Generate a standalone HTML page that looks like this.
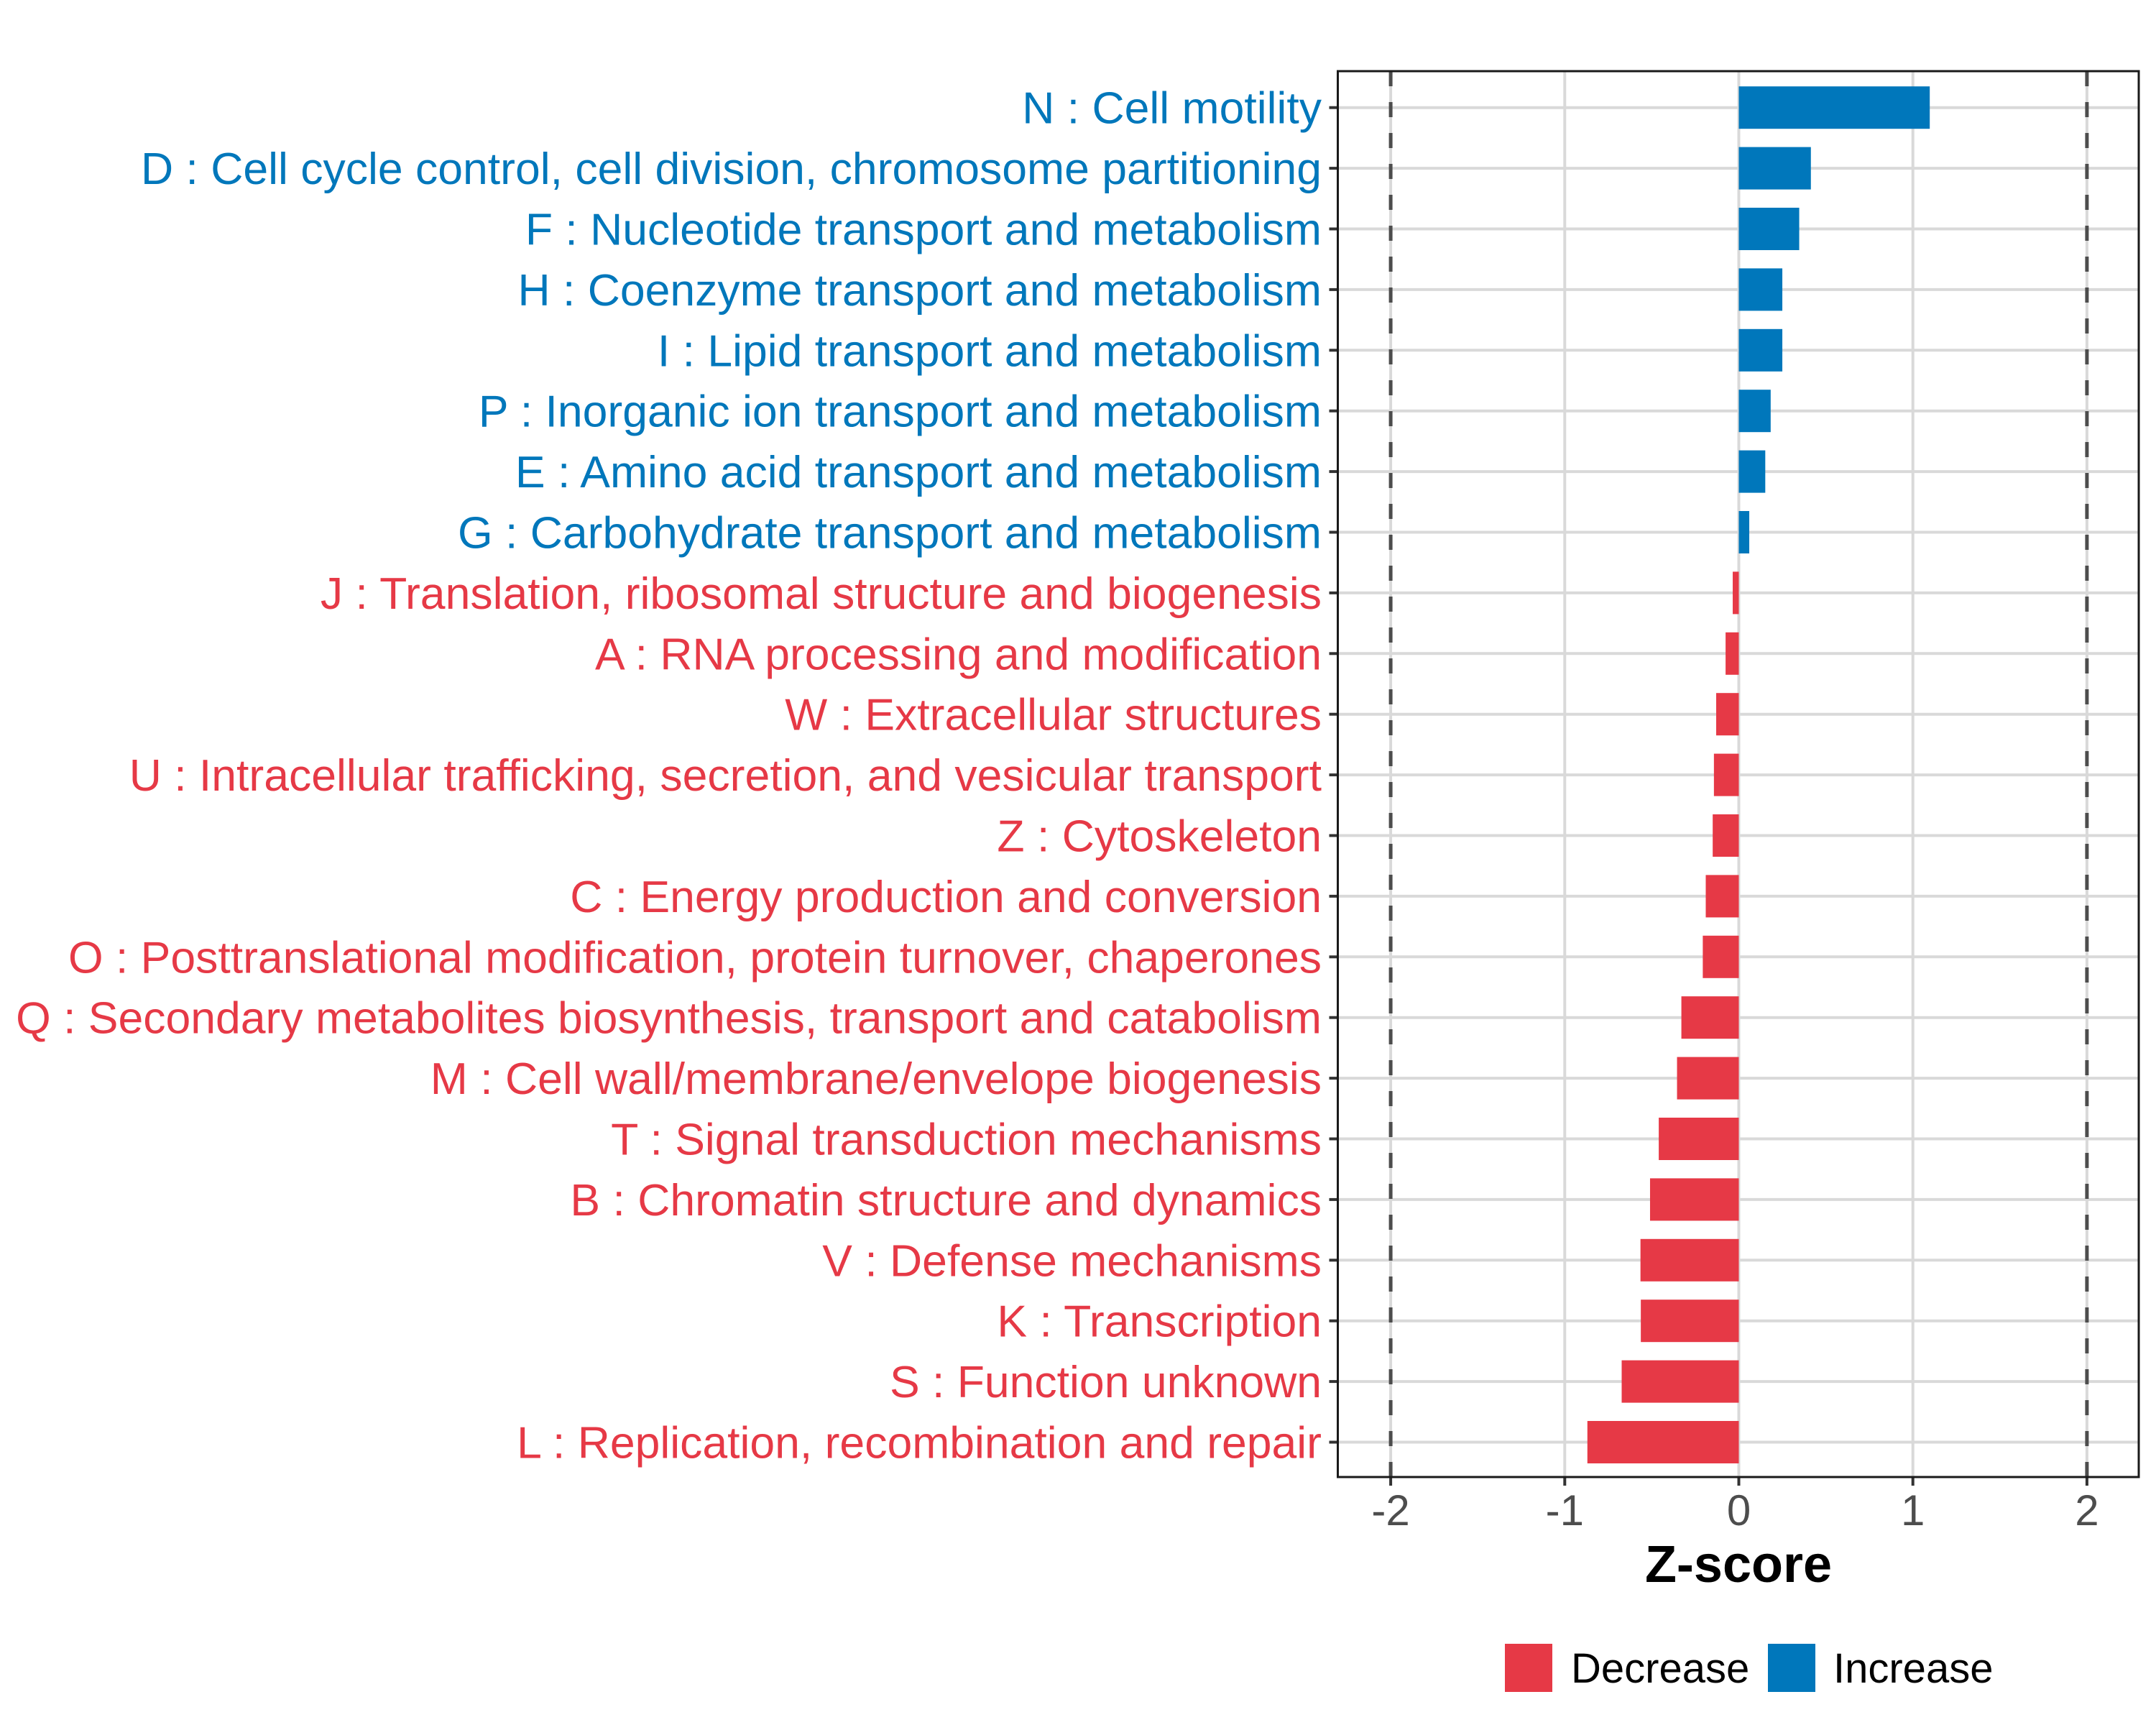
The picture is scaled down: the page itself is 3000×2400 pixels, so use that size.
<!DOCTYPE html>
<html><head><meta charset="utf-8"><style>
html,body{margin:0;padding:0;background:#fff;}
svg{display:block;font-family:"Liberation Sans",Arial,sans-serif;}
</style></head><body>
<svg id="chart" width="3000" height="2400" viewBox="0 0 3000 2400">
<rect x="0" y="0" width="3000" height="2400" fill="#fff"/>
<g id="grid"></g>
<g id="bars"></g>
<g id="labels"></g>
<g id="xaxis"></g>
<rect x="1861.5" y="99" width="1114.5" height="1956" fill="none" stroke="#1a1a1a" stroke-width="3"/>
<text x="2419" y="2201" text-anchor="middle" font-size="72" font-weight="bold" fill="#000">Z-score</text>
<g>
<rect x="2094" y="2287" width="66" height="67" fill="#E63946"/>
<text x="2186" y="2341" font-size="58" fill="#000">Decrease</text>
<rect x="2460" y="2287" width="66" height="67" fill="#0077BB"/>
<text x="2551" y="2341" font-size="58" fill="#000">Increase</text>
</g>
</svg>
<script>
const categories = [
"N : Cell motility",
"D : Cell cycle control, cell division, chromosome partitioning",
"F : Nucleotide transport and metabolism",
"H : Coenzyme transport and metabolism",
"I : Lipid transport and metabolism",
"P : Inorganic ion transport and metabolism",
"E : Amino acid transport and metabolism",
"G : Carbohydrate transport and metabolism",
"J : Translation, ribosomal structure and biogenesis",
"A : RNA processing and modification",
"W : Extracellular structures",
"U : Intracellular trafficking, secretion, and vesicular transport",
"Z : Cytoskeleton",
"C : Energy production and conversion",
"O : Posttranslational modification, protein turnover, chaperones",
"Q : Secondary metabolites biosynthesis, transport and catabolism",
"M : Cell wall/membrane/envelope biogenesis",
"T : Signal transduction mechanisms",
"B : Chromatin structure and dynamics",
"V : Defense mechanisms",
"K : Transcription",
"S : Function unknown",
"L : Replication, recombination and repair"];
const zscores = [1.097,0.414,0.347,0.25,0.25,0.183,0.152,0.06,-0.035,-0.076,-0.13,-0.143,-0.15,-0.19,-0.207,-0.33,-0.355,-0.46,-0.51,-0.565,-0.563,-0.673,-0.87];
const xTicks = [-2,-1,0,1,2];
const xTickLabels = ["-2","-1","0","1","2"];
const thresholds = [-2,2];

const NS="http://www.w3.org/2000/svg";
const x0=2419.5, unit=242.2;
const xs=v=>x0+v*unit;
const rowY0=149.7, rowStep=84.4;
const ys=i=>rowY0+i*rowStep;
const panelL=1861.5, panelR=2976, panelT=99, panelB=2055;
function mk(tag,attrs,parent){const e=document.createElementNS(NS,tag);for(const k in attrs)e.setAttribute(k,attrs[k]);parent.appendChild(e);return e;}
const grid=document.getElementById('grid'), bars=document.getElementById('bars'), labels=document.getElementById('labels'), xaxis=document.getElementById('xaxis');
xTicks.forEach((t,i)=>{
  const g=mk('line',{x1:xs(t),x2:xs(t),y1:panelT,y2:panelB,stroke:'#d9d9d9','stroke-width':4},grid);
  
  
  const tk=mk('line',{x1:xs(t),x2:xs(t),y1:panelB,y2:panelB+12,stroke:'#333','stroke-width':4},xaxis);
  
  
  const tl=mk('text',{x:xs(t),y:panelB+67,'text-anchor':'middle','font-size':60,fill:'#4d4d4d'},xaxis);
  tl.textContent=xTickLabels[i];
  
  
});
categories.forEach((c,i)=>{
  const y=ys(i);
  const g=mk('line',{x1:panelL,x2:panelR,y1:y,y2:y,stroke:'#d9d9d9','stroke-width':4},grid);
  
  
  const v=zscores[i];
  const col=v>=0?'#0077BB':'#E63946';
  const b=mk('rect',{x:Math.min(xs(0),xs(v)),y:y-29.5,width:Math.abs(xs(v)-xs(0)),height:59,fill:col},bars);
  
  
  const tk=mk('line',{x1:panelL-12,x2:panelL,y1:y,y2:y,stroke:'#333','stroke-width':4},labels);
  
  
  const t=mk('text',{x:1839,y:y+22,'text-anchor':'end','font-size':62.5,fill:col},labels);
  t.textContent=c;
  
  
});
thresholds.forEach(t=>{
  const d=mk('line',{x1:xs(t),x2:xs(t),y1:panelT,y2:panelB+12,stroke:'#4d4d4d','stroke-width':5,'stroke-dasharray':'21 22'},grid);
  
  
});
</script>
</body></html>
